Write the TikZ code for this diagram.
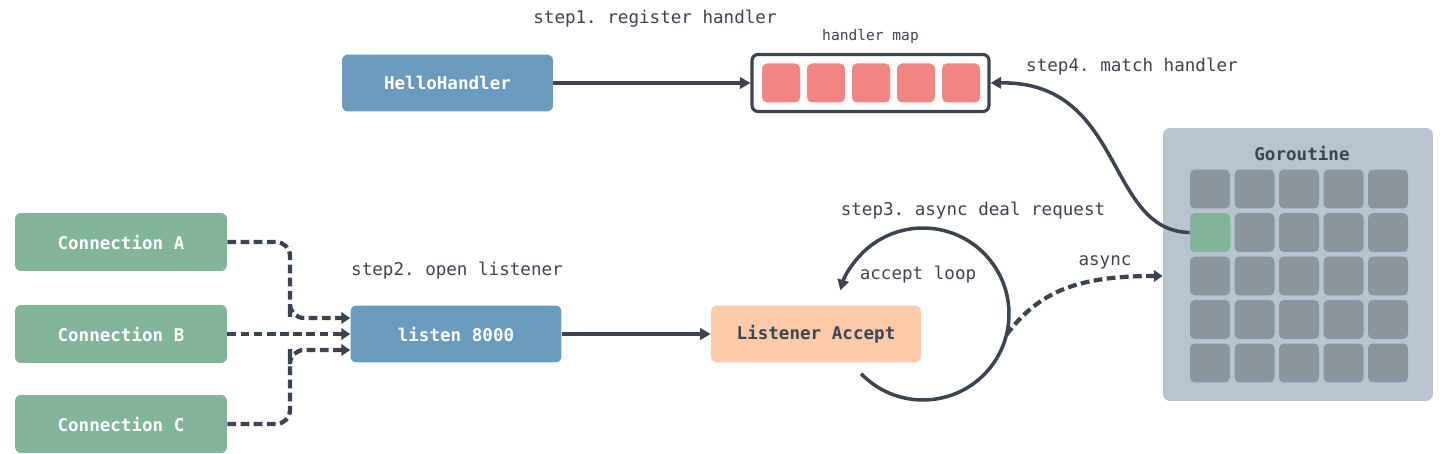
\documentclass[tikz,border=0pt]{standalone}
\usepackage{tikz}
\usetikzlibrary{arrows.meta, positioning}
\usepackage{fontspec}
\setmonofont{DejaVu Sans Mono}
\usepackage{xcolor}
\definecolor{inkdark}{HTML}{3D4451}
\definecolor{boxblue}{HTML}{6A9BBE}
\definecolor{boxgreen}{HTML}{82B49A}
\definecolor{boxpeach}{HTML}{FECBAA}
\definecolor{cellred}{HTML}{F08582}
\definecolor{gorbg}{HTML}{B8C4CF}
\definecolor{gorcell}{HTML}{8A959D}
\tikzset{%
	flow box/.style={
		rectangle,
		rounded corners=0.12cm,
		minimum width=4.22cm,
		minimum height=1.14cm,
		font=\ttfamily\bfseries\fontsize{10}{12}\selectfont,
		text=white
	},
	map cell/.style={
		rectangle,
		rounded corners=0.1cm,
		fill=cellred,
		minimum width=0.76cm,
		minimum height=0.78cm
	},
	gor cell/.style={
		rectangle,
		rounded corners=0.1cm,
		fill=gorcell,
		minimum width=0.8cm,
		minimum height=0.78cm
	},
	step label/.style={
		font=\ttfamily\fontsize{10}{12}\selectfont,
		text=inkdark
	},
	solid link/.style={
		draw=inkdark,
		line width=2pt,
		-{Triangle[length=6pt,width=6.5pt]}
	},
	dash link/.style={
		draw=inkdark,
		line width=2.4pt,
		dash pattern=on 5pt off 2.5pt,
		-{Triangle[length=5pt,width=6.5pt]}
	},
}

\begin{document}
\begin{tikzpicture}[x=0.02cm, y=0.02cm]
			\useasboundingbox (0,0) rectangle (1440,453);
			
			% Handler side
			\node[flow box, fill=boxblue] (hello) at (447.5,370) {HelloHandler};
			\node[step label] (step1) at (655,434) {step1. register handler};
			\node[draw=inkdark, line width=1.8pt, rounded corners=0.12cm,
				minimum width=4.74cm, minimum height=1.14cm] (hmap) at (870.5,370) {};
			\foreach \i in {0,...,4}
				\node[map cell] (hcell-\i) at (781+45*\i,370) {};
			\node[step label, font=\ttfamily\fontsize{8.3}{10}\selectfont, above=0.06cm of hmap] (hmaplabel) {handler map};
			\node[step label] (step4) at (1132,386) {step4. match handler};
			
			% Goroutine pool
			\node[fill=gorbg, rounded corners=0.14cm, minimum width=5.4cm,
				minimum height=5.46cm] (gor) at (1298,188.5) {};
			\node[step label, font=\ttfamily\bfseries\fontsize{10}{12}\selectfont] (gortitle) at (1302,300) {Goroutine};
			\foreach \r in {0,...,4}
				\foreach \c in {0,...,4}
					\node[gor cell] (g-\r-\c) at (1210+44.5*\c,264-43.5*\r) {};
			\node[gor cell, fill=boxgreen] (g-1-0) at (1210,220.5) {};
			
			% Connections and listener
			\node[flow box, fill=boxgreen, minimum width=4.24cm, minimum height=1.16cm] (conA) at (121,211) {Connection A};
			\node[flow box, fill=boxgreen, minimum width=4.24cm, minimum height=1.16cm] (conB) at (121,119) {Connection B};
			\node[flow box, fill=boxgreen, minimum width=4.24cm, minimum height=1.16cm] (conC) at (121,29) {Connection C};
			\node[flow box, fill=boxblue] (listen) at (456,119) {listen 8000};
			\node[step label] (step2) at (457,182) {step2. open listener};
			\node[flow box, fill=boxpeach, text=inkdark, minimum width=4.2cm] (accept) at (816,119) {Listener Accept};
			\node[step label] (step3) at (973,242) {step3. async deal request};
			\node[step label] (looplabel) at (918,178) {accept loop};
			\node[step label] (asynclabel) at (1105,191) {async};
			
			\coordinate (loopc) at (923,139);
			\coordinate (asyncstart) at ([shift={(-14:1.72cm)}]loopc);
			\coordinate (asyncend) at (gor.west |- 0,177);
			
			% Links
			\draw[solid link] (hello) -- (hmap);
			\draw[solid link] (listen) -- (accept);
			\draw[solid link] (g-1-0.west) .. controls (1105,222) and (1125,372) .. (hmap.east);
			\draw[dash link, rounded corners=8pt] (conA.east) -| (290,150) |- ([yshift=0.32cm]listen.west);
			\draw[dash link] (conB) -- (listen);
			\draw[dash link, rounded corners=8pt] (conC.east) -| (290,90) |- ([yshift=-0.32cm]listen.west);
			\draw[solid link] ([shift={(-136:1.72cm)}]loopc) arc[start angle=-136, end angle=164, radius=1.72cm];
			\draw[dash link] (asyncstart) .. controls (1040,163) and (1080,177) .. (asyncend);
			
		\end{tikzpicture}
\end{document}
